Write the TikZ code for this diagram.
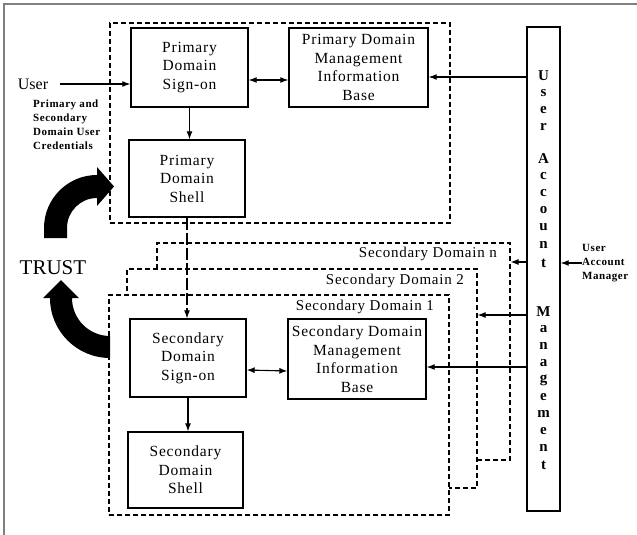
\documentclass[tikz,border=0pt]{standalone}
\usepackage{fontspec}
\setmainfont{Liberation Serif}
\newfontfamily\bxfont[LetterSpace=5]{Liberation Serif}
\usetikzlibrary{arrows.meta}
\begin{document}
\begin{tikzpicture}[x=1pt,y=-1pt,
 box/.style={draw,line width=1.4pt,fill=white,inner sep=0pt,align=center,font=\bxfont\fontsize{15.5}{18.5}\selectfont},
 dbox/.style={draw,line width=1.1pt,dash pattern=on 5pt off 3pt,fill=white,inner sep=0pt},
 arr/.style={line width=1.1pt,-{Latex[length=8pt,width=6pt]}},
 darr/.style={line width=1.1pt,{Latex[length=8pt,width=6pt]}-{Latex[length=8pt,width=6pt]}},
 lbl/.style={inner sep=0pt,font=\bxfont\fontsize{15}{18}\selectfont},
 small/.style={inner sep=0pt,align=left,font=\bxfont\bfseries\fontsize{11}{14}\selectfont},
 letter/.style={inner sep=0pt,font=\bfseries\fontsize{15}{15}\selectfont},
 bigarrow/.style={fill=black,draw=none}]
\useasboundingbox (0,0) rectangle (637,535);
% frame
\draw[gray,line width=1.6pt] (4,540) -- (4,4) -- (640,4);
% dashed domain boxes
\node[dbox,minimum width=340pt,minimum height=200pt] (pd) at (280,123) {};
\node[dbox,minimum width=353pt,minimum height=217pt] (sdn) at (333.5,351.5) {};
\node[dbox,minimum width=350pt,minimum height=219pt] (sd2) at (302,378.5) {};
\node[dbox,minimum width=340pt,minimum height=220pt] (sd1) at (279,405) {};
\node[lbl,anchor=east] (sdnl) at (497,254) {Secondary Domain n};
\node[lbl,anchor=east] (sd2l) at (464,281) {Secondary Domain 2};
\node[lbl,anchor=east] (sd1l) at (434,307) {Secondary Domain 1};
% boxes
\node[box,minimum width=117pt,minimum height=79pt] (pso) at (189.5,67.5) {Primary\\Domain\\Sign-on};
\node[box,minimum width=139pt,minimum height=79pt] (pmib) at (358.5,67.5) {Primary Domain\\Management\\Information\\Base};
\node[box,minimum width=116pt,minimum height=77pt] (psh) at (187,178.5) {Primary\\Domain\\Shell};
\node[box,minimum width=116pt,minimum height=78pt] (sso) at (188,358) {Secondary\\Domain\\Sign-on};
\node[box,minimum width=138pt,minimum height=80pt] (smib) at (357,359) {Secondary Domain\\Management\\Information\\Base};
\node[box,minimum width=115pt,minimum height=76pt] (ssh) at (185.5,470) {Secondary\\Domain\\Shell};
\node[draw,line width=1.4pt,fill=white,inner sep=0pt,minimum width=33pt,minimum height=484pt] (uam) at (543.5,269) {};
\foreach \l/\yy in {U/76,s/93,e/110,r/127,A/159,c/176,c/193,o/210,u/227,n/245,t/263,M/312,a/329,n/346,a/363,g/380,e/397,m/414,e/431,n/448,t/465}
  \node[letter] (ltr\yy) at (543.5,\yy) {\l};
% texts
\node[inner sep=0pt,font=\fontsize{16}{16}\selectfont] (user) at (33,84) {User};
\node[small,anchor=west] (cred) at (33,124.5) {Primary and\\Secondary\\Domain User\\Credentials};
\node[small,anchor=west] (uamgr) at (582,263) {User\\Account\\Manager};
\node[inner sep=0pt,font=\fontsize{21}{21}\selectfont] (trust) at (53,268) {TRUST};
% connectors
\draw[arr] ([xshift=12pt]user.east) -- (pso.west |- user.east);
\draw[darr] ([yshift=-12.5pt]pso.east) -- ([yshift=-12.5pt]pmib.west);
\draw[arr] (pso.south) -- (pso.south |- psh.north);
\draw[arr] (uam.west |- 0,77) -- (pmib.east |- 0,77);
\draw[arr] (uam.west |- 0,262) -- (sdn.east |- 0,262);
\draw[arr] (uam.west |- 0,315) -- (sd2.east |- 0,315);
\draw[arr] (uam.west |- 0,367) -- (smib.east |- 0,367);
\draw[arr] (uamgr.west) -- (uam.east |- uamgr.west);
\draw[darr] ([yshift=-12pt]sso.east) -- ([yshift=-12pt]smib.west);
\draw[arr] (sso.south) -- (sso.south |- ssh.north);
\draw[line width=1.1pt,dash pattern=on 12pt off 3pt,-{Latex[length=8pt,width=6pt]}] (psh.south) -- (psh.south |- sso.north);
% trust arrows
\fill[bigarrow] (44,238) -- (44,228) arc[start angle=180,end angle=270,radius=53] -- (97,167) -- (114,186.5) -- (97,206) -- (97,198) arc[start angle=270,end angle=180,radius=30] -- (67,238) -- cycle;
\fill[bigarrow] (110,358) arc[start angle=90,end angle=180,radius=60] -- (43,298) -- (61,280) -- (79,298) -- (72,298) arc[start angle=180,end angle=90,radius=38] -- cycle;
\end{tikzpicture}
\end{document}
